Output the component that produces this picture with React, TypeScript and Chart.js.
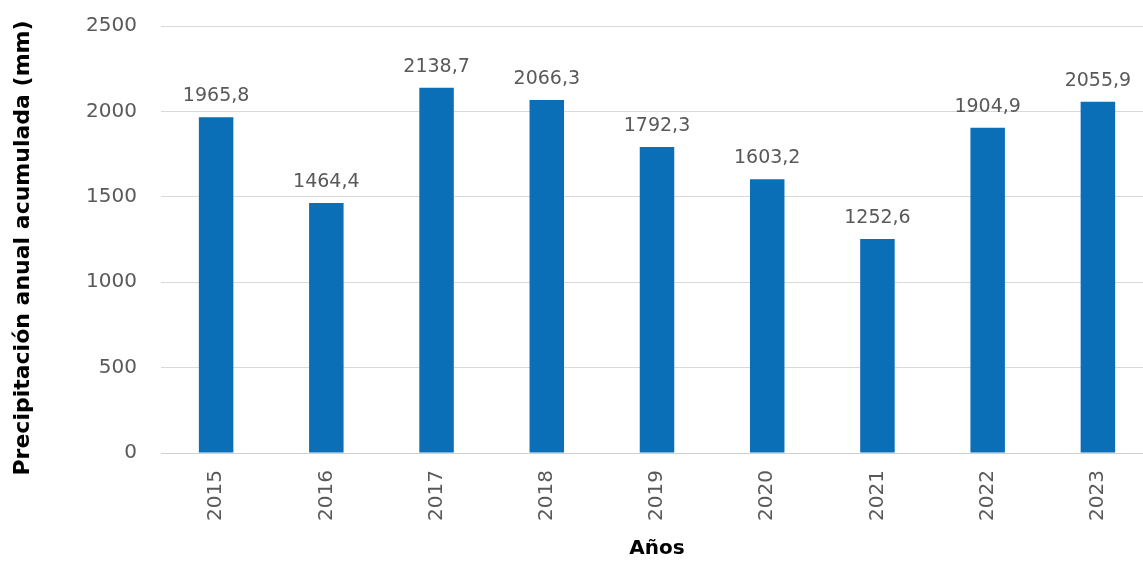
import React, { useEffect, useRef } from "react";
import { Chart, registerables } from "chart.js";

Chart.register(...registerables);

const years = ["2015", "2016", "2017", "2018", "2019", "2020", "2021", "2022", "2023"];
const precipitation = [1965.8, 1464.4, 2138.7, 2066.3, 1792.3, 1603.2, 1252.6, 1904.9, 2055.9];
const yTitle = "Precipitación anual acumulada (mm)";
const xTitle = "Años";

const FONT = "'DejaVu Sans', sans-serif";
const TEXT = "#595959";
const BAR = "#0B6FB8";

const valueLabels = {
  id: "valueLabels",
  afterDatasetsDraw(chart: any) {
    const ctx = chart.ctx;
    const meta = chart.getDatasetMeta(0);
    ctx.save();
    ctx.font = `19px ${FONT}`;
    ctx.fillStyle = TEXT;
    ctx.textAlign = "center";
    ctx.textBaseline = "alphabetic";
    meta.data.forEach((el: any, i: number) => {
      const v = precipitation[i];
      ctx.fillText(v.toFixed(1).replace(".", ","), el.x, el.y - 16);
    });
    // vertical axis title
    ctx.font = `bold 22px ${FONT}`;
    ctx.fillStyle = "#000";
    ctx.textBaseline = "middle";
    ctx.translate(23, 258);
    ctx.rotate(-Math.PI / 2);
    ctx.fillText(yTitle, 0, 0);
    ctx.restore();
  },
};

export default function App() {
  const ref = useRef<HTMLCanvasElement | null>(null);
  useEffect(() => {
    document.body.style.margin = "0";
    const chart = new Chart(ref.current!, {
      type: "bar",
      data: {
        labels: years,
        datasets: [
          {
            data: precipitation,
            backgroundColor: BAR,
            barPercentage: 0.313,
            categoryPercentage: 1,
          },
        ],
      },
      options: {
        animation: false,
        responsive: true,
        maintainAspectRatio: false,
        layout: { padding: 0 },
        plugins: { legend: { display: false }, tooltip: { enabled: false } },
        scales: {
          x: {
            grid: { display: false, drawTicks: false },
            border: { display: true, color: "#d0d0d0", width: 1 },
            ticks: {
              color: TEXT,
              font: { family: FONT, size: 20 },
              minRotation: 90,
              maxRotation: 90,
              padding: 17,
            },
            title: {
              display: true,
              text: xTitle,
              color: "#000",
              font: { family: FONT, size: 20, weight: "bold" },
              padding: { top: 0, bottom: 0 },
            },
            afterFit(scale: any) {
              scale.height = 108;
            },
          },
          y: {
            min: 0,
            max: 2500,
            grid: { color: "#d9d9d9", lineWidth: 1, drawTicks: false },
            border: { display: false },
            ticks: {
              stepSize: 500,
              color: TEXT,
              font: { family: FONT, size: 20 },
              padding: 24,
              callback: (v: any) => String(v),
            },
            title: { display: false },
            afterFit(scale: any) {
              scale.width = 161;
            },
          },
        },
      },
      plugins: [valueLabels],
    });
    return () => chart.destroy();
  }, []);
  return (
    <div style={{ position: "fixed", left: 0, top: -10, width: 1153, height: 571 }}>
      <canvas ref={ref} />
    </div>
  );
}
